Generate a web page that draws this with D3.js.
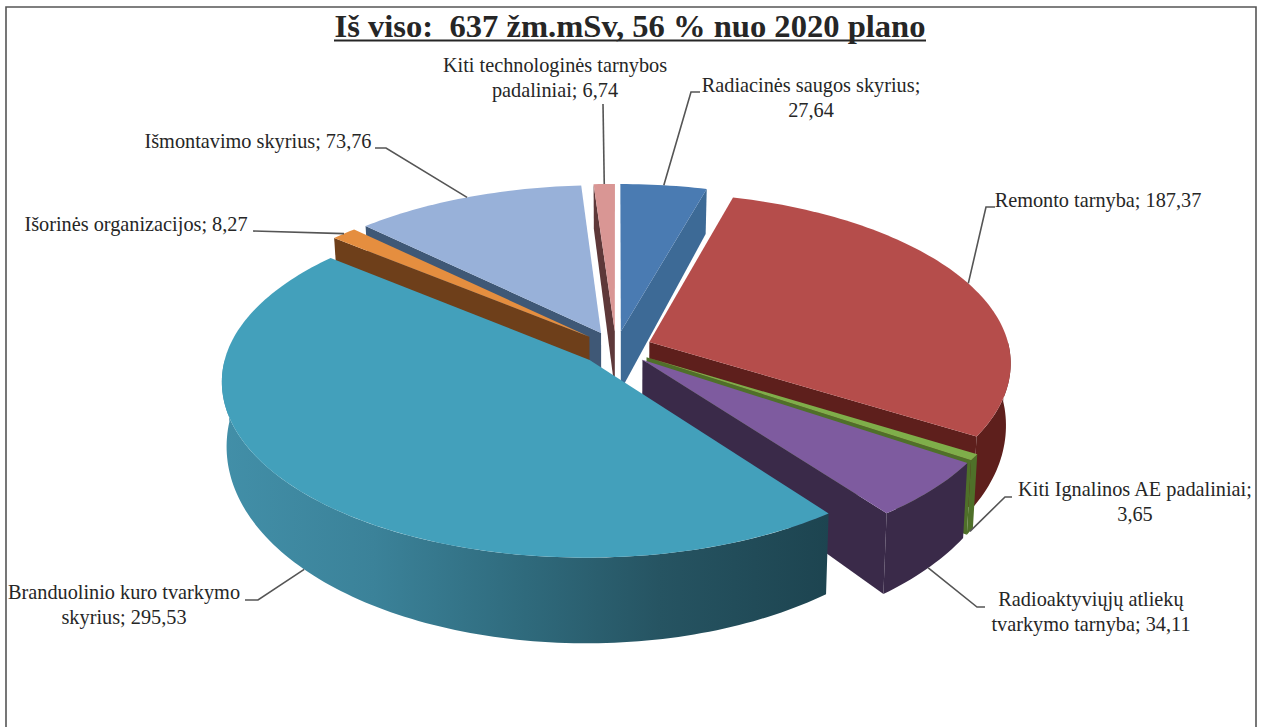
<!DOCTYPE html>
<html lang="lt">
<head>
<meta charset="utf-8">
<title>Iš viso: 637 žm.mSv</title>
<script src="https://cdn.jsdelivr.net/npm/d3@7/dist/d3.min.js"></script>
<style>
  html, body { margin: 0; padding: 0; background: #fff; }
  svg { display: block; }
  text { font-family: "Liberation Serif", "Times New Roman", serif; fill: #262626; }
</style>
</head>
<body>
<svg id="chart" width="1263" height="727"></svg>
<script>
// Dose by department, clockwise from twelve o'clock.
const categories = [
  "Radiacinės saugos skyrius",
  "Remonto tarnyba",
  "Kiti Ignalinos AE padaliniai",
  "Radioaktyviųjų atliekų tvarkymo tarnyba",
  "Branduolinio kuro tvarkymo skyrius",
  "Išorinės organizacijos",
  "Išmontavimo skyrius",
  "Kiti technologinės tarnybos padaliniai"
];
const values = [27.64, 187.37, 3.65, 34.11, 295.53, 8.27, 73.76, 6.74];
const topColors = ["#4a7bb2", "#b54d4b", "#7fae4a", "#7e5b9f", "#43a0bb", "#e58e3f", "#98b1d9", "#d99694"];
const wallColors = ["#3d6a96", "#5e1f1c", "#4f7029", "#3a2a49", "url(#tealWall)", "#6e3f1a", "#3f5876", "#5e3839"];
const titleText = "Iš viso:  637 žm.mSv, 56 % nuo 2020 plano";

// Where each category name wraps onto a second line (the value always follows it).
const wrapAfter = [
  "Radiacinės saugos skyrius;",
  null,
  "Kiti Ignalinos AE padaliniai;",
  "Radioaktyviųjų atliekų",
  "Branduolinio kuro tvarkymo",
  null,
  null,
  "Kiti technologinės tarnybos"
];
const labelCenters = [[811, 92], [1098, 207], [1135, 496], [1091, 606], [124, 599], [136, 231], [258, 148], [555, 72]];
const leaderStubs = [
  [[700, 92], [691, 92]],
  [[995, 207], [986, 207]],
  [[1012, 497], [1005, 497]],
  [[985, 607], [977, 607]],
  [[245, 600], [258, 600]],
  [[253, 231]],
  [[375, 148], [386, 148]],
  [[603, 104]]
];

const svg = d3.select("#chart");
const W = 1263, H = 727;
const decimalComma = d3.formatLocale({ decimal: ",", thousands: " ", grouping: [3], currency: ["", ""] }).format(".2f");

// Frame, open along the bottom edge.
svg.append("path")
  .attr("d", d3.line()([[6, H], [6, 7], [1256, 7], [1256, H]]))
  .attr("fill", "none").attr("stroke", "#555").attr("stroke-width", 1.6);

// Title with a separately drawn underline so its weight can be set.
svg.append("text")
  .attr("x", 630).attr("y", 37)
  .attr("text-anchor", "middle")
  .attr("font-size", 32.6).attr("font-weight", "bold")
  .attr("xml:space", "preserve").style("white-space", "pre")
  .text(titleText);
svg.append("line").attr("x1", 334).attr("x2", 926).attr("y1", 40.5).attr("y2", 40.5)
  .attr("stroke", "#262626").attr("stroke-width", 2);

// Pie plane coordinates: u to the right, v towards the viewer; one unit is the radius.
const scaleU = d3.scaleLinear().domain([-1, 0, 1]).range([616 - 362, 616, 616 + 360]);
const scaleV = d3.scaleLinear().domain([-1, 0, 1]).range([348 - 168, 348, 348 + 172]);
const scaleDepth = d3.scaleLinear().domain([-1, 0, 1]).range([46, 60, 84]);
const perspective = 0.115;
const explode = 0.1;
const taper = 0.988;

function project(u, v, low) {
  const f = 1 / (1 - perspective * v);
  let x = scaleU(0) + (scaleU(u) - scaleU(0)) * f;
  let y = scaleV(0) + (scaleV(v) - scaleV(0)) * f;
  if (low) {
    x = scaleU(0) + (x - scaleU(0)) * taper;
    y += scaleDepth(v);
  }
  return [x, y];
}

const pie = d3.pie().sort(null).value(d => d);
const arcs = pie(values).map((a, i) => {
  const mid = (a.startAngle + a.endAngle) / 2;
  return {
    i,
    a0: a.startAngle,
    a1: a.endAngle,
    mid,
    ou: explode * Math.sin(mid),
    ov: -explode * Math.cos(mid)
  };
});

const rimPoint = (s, t) => [s.ou + Math.sin(t), s.ov - Math.cos(t)];
const line = d3.line();
const sweep = (a0, a1) => {
  const n = Math.max(2, Math.ceil((a1 - a0) / 0.02));
  return d3.range(n + 1).map(k => a0 + (a1 - a0) * k / n);
};

// Horizontal shading across the large slice's outer wall.
const defs = svg.append("defs");
const tealWall = defs.append("linearGradient").attr("id", "tealWall")
  .attr("gradientUnits", "userSpaceOnUse")
  .attr("x1", 222).attr("x2", 830).attr("y1", 0).attr("y2", 0);
[[0, "#428fa8"], [0.25, "#3b8299"], [0.5, "#2f6a7c"], [0.72, "#265462"], [1, "#1d4450"]]
  .forEach(([o, c]) => tealWall.append("stop").attr("offset", o).attr("stop-color", c));

// Slices are painted from the back of the pie to the front.
const order = arcs.slice().sort((p, q) => (-Math.cos(p.mid)) - (-Math.cos(q.mid)));
const sliceG = svg.append("g");

order.forEach(s => {
  const g = sliceG.append("g");
  const apex = [s.ou, s.ov];
  const wall = wallColors[s.i];
  const radial = t => {
    const r = rimPoint(s, t);
    const pts = [project(...apex), project(...r), project(...r, true), project(...apex, true)];
    g.append("path").attr("d", line(pts) + "Z").attr("fill", wall);
  };
  if (-Math.sin(s.a0) > 0) radial(s.a0);
  if (Math.sin(s.a1) > 0) radial(s.a1);

  // Outer wall, only where the rim turns towards the viewer.
  const lo = Math.max(s.a0, Math.PI / 2), hi = Math.min(s.a1, 3 * Math.PI / 2);
  if (hi > lo) {
    const ts = sweep(lo, hi);
    const upper = ts.map(t => project(...rimPoint(s, t)));
    const lower = ts.slice().reverse().map(t => project(...rimPoint(s, t), true));
    g.append("path").attr("d", line(upper.concat(lower)) + "Z").attr("fill", wall);
  }

  // Top face.
  const face = [project(...apex)].concat(sweep(s.a0, s.a1).map(t => project(...rimPoint(s, t))));
  g.append("path").attr("d", line(face) + "Z").attr("fill", topColors[s.i]);
});

// Leader lines end on the rim at each slice's middle angle.
const leaders = svg.append("g").attr("fill", "none").attr("stroke", "#555").attr("stroke-width", 1.6);
arcs.forEach(s => {
  const r = rimPoint(s, s.mid);
  const end = project(r[0], r[1], r[1] > 0);
  leaders.append("path").attr("d", line(leaderStubs[s.i].concat([end])));
});

// Data labels: category name and value, wrapped where the layout asks for it.
const labels = svg.append("g").attr("font-size", 20.3).attr("text-anchor", "middle");
categories.forEach((name, i) => {
  const [cx, cy] = labelCenters[i];
  const full = `${name}; ${decimalComma(values[i])}`;
  const first = wrapAfter[i];
  const lines = first ? [first, full.slice(first.length + 1)] : [full];
  const t = labels.append("text");
  lines.forEach((l, k) => {
    t.append("tspan").attr("x", cx).attr("y", cy + k * 24.5).text(l);
  });
});
</script>
</body>
</html>
